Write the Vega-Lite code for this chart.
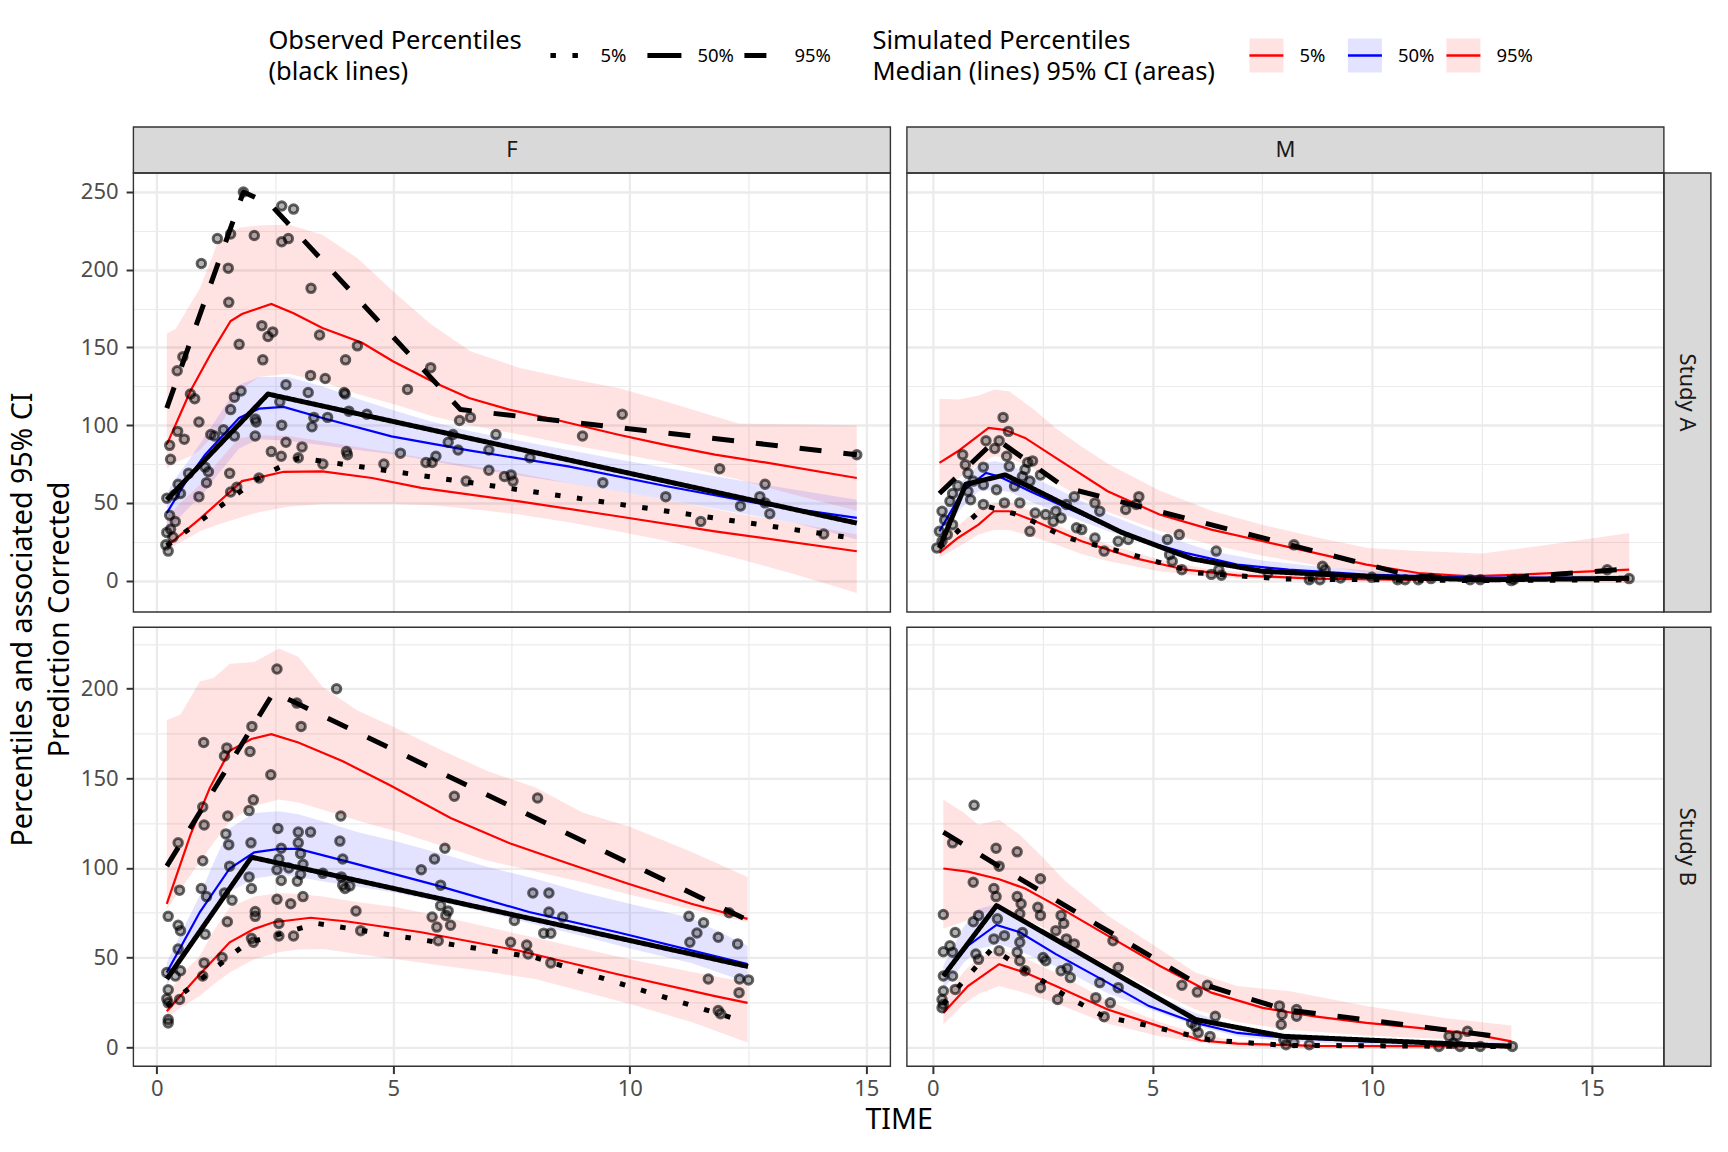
{
  "$schema": "https://vega.github.io/schema/vega-lite/v6.json",
  "background": "white",
  "padding": {"left": 8.4, "top": 26, "right": 5, "bottom": 5},
  "config": {
    "font": "Noto Sans",
    "view": {"stroke": null},
    "axis": {
      "domain": false, "gridColor": "#EBEBEB", "tickColor": "#333333", "tickWidth": 2, "tickSize": 7.3,
      "labelFont": "Noto Sans", "labelFontSize": 22, "labelColor": "#4D4D4D", "labelOverlap": false, "labelFlush": false,
      "titleFont": "Noto Sans", "titleFontWeight": "normal", "titleFontSize": 28.6, "titleColor": "#000000"
    },
    "axisX": {"labelPadding": 5},
    "axisY": {"labelPadding": 8}
  },
  "datasets": {
    "pFA": [{"t":1.83,"v":250},{"t":2.64,"v":241},{"t":2.89,"v":239},{"t":1.28,"v":220},{"t":1.56,"v":223},{"t":2.06,"v":222},{"t":2.64,"v":218},{"t":2.78,"v":220},{"t":0.94,"v":204},{"t":1.51,"v":201},{"t":3.26,"v":188},{"t":1.52,"v":179},{"t":2.22,"v":164},{"t":2.45,"v":160},{"t":2.35,"v":157},{"t":3.44,"v":158},{"t":4.24,"v":151},{"t":1.74,"v":152},{"t":0.55,"v":144},{"t":0.43,"v":135},{"t":2.24,"v":142},{"t":3.99,"v":142},{"t":5.79,"v":137},{"t":3.25,"v":132},{"t":3.56,"v":130},{"t":5.3,"v":123},{"t":2.73,"v":126},{"t":3.2,"v":121},{"t":3.96,"v":121},{"t":3.98,"v":120},{"t":0.71,"v":120},{"t":0.8,"v":117},{"t":1.78,"v":122},{"t":1.64,"v":118},{"t":1.56,"v":110},{"t":2.6,"v":115},{"t":4.44,"v":107},{"t":4.06,"v":109},{"t":2.08,"v":104},{"t":2.1,"v":102},{"t":3.32,"v":105},{"t":3.61,"v":105},{"t":0.89,"v":102},{"t":1.14,"v":94},{"t":1.22,"v":93},{"t":1.64,"v":93},{"t":2.08,"v":93},{"t":1.41,"v":97},{"t":2.64,"v":100},{"t":3.28,"v":99},{"t":6.4,"v":103},{"t":6.63,"v":105},{"t":9.84,"v":107},{"t":0.44,"v":96},{"t":0.58,"v":91},{"t":6.26,"v":94},{"t":7.17,"v":94},{"t":9.0,"v":93},{"t":0.27,"v":87},{"t":0.29,"v":78},{"t":2.73,"v":89},{"t":3.07,"v":86},{"t":2.42,"v":83},{"t":2.63,"v":80},{"t":4.01,"v":83},{"t":4.03,"v":81},{"t":5.15,"v":82},{"t":5.9,"v":80},{"t":5.69,"v":76},{"t":5.82,"v":76},{"t":3.51,"v":75},{"t":2.99,"v":79},{"t":4.8,"v":75},{"t":6.16,"v":89},{"t":6.37,"v":84},{"t":7.02,"v":84},{"t":7.89,"v":79},{"t":1.02,"v":73},{"t":1.09,"v":70},{"t":1.05,"v":63},{"t":0.67,"v":69},{"t":0.45,"v":62},{"t":0.5,"v":56},{"t":1.54,"v":69},{"t":7.02,"v":71},{"t":7.35,"v":67},{"t":7.49,"v":68},{"t":7.53,"v":64},{"t":6.54,"v":64},{"t":9.43,"v":63},{"t":10.76,"v":54},{"t":11.9,"v":72},{"t":12.86,"v":62},{"t":12.75,"v":54},{"t":12.86,"v":50},{"t":12.96,"v":43},{"t":12.34,"v":48},{"t":11.5,"v":38},{"t":14.1,"v":30},{"t":14.8,"v":81},{"t":1.69,"v":60},{"t":0.89,"v":54},{"t":0.37,"v":55},{"t":1.56,"v":57},{"t":2.16,"v":66},{"t":0.21,"v":53},{"t":0.27,"v":42},{"t":0.29,"v":33},{"t":0.21,"v":31},{"t":0.34,"v":28},{"t":0.24,"v":19},{"t":0.19,"v":23},{"t":0.39,"v":38}],
    "pFB": [{"t":2.54,"v":211},{"t":3.8,"v":200},{"t":2.96,"v":192},{"t":2.01,"v":179},{"t":3.05,"v":179},{"t":0.99,"v":170},{"t":1.48,"v":167},{"t":1.97,"v":165},{"t":1.43,"v":162.5},{"t":2.41,"v":152},{"t":6.29,"v":140},{"t":8.05,"v":139},{"t":2.04,"v":138},{"t":0.97,"v":134},{"t":1.95,"v":132},{"t":1.0,"v":124},{"t":1.5,"v":129},{"t":3.89,"v":129},{"t":2.56,"v":122},{"t":2.99,"v":120},{"t":3.25,"v":120},{"t":1.46,"v":119},{"t":3.87,"v":115},{"t":1.52,"v":113},{"t":1.99,"v":114},{"t":2.99,"v":114},{"t":6.09,"v":111},{"t":5.87,"v":105},{"t":3.93,"v":105},{"t":0.45,"v":114},{"t":0.97,"v":104},{"t":2.63,"v":111},{"t":2.58,"v":105},{"t":3.04,"v":108},{"t":1.54,"v":101},{"t":2.79,"v":100},{"t":3.09,"v":102},{"t":2.54,"v":99},{"t":1.95,"v":95},{"t":3.51,"v":97},{"t":3.04,"v":96.5},{"t":5.59,"v":99},{"t":2.63,"v":93},{"t":2.97,"v":92.6},{"t":3.9,"v":95},{"t":3.93,"v":90.4},{"t":3.98,"v":88.5},{"t":4.08,"v":90},{"t":2.0,"v":88.5},{"t":0.94,"v":88.5},{"t":0.48,"v":87.6},{"t":1.05,"v":84},{"t":1.43,"v":86},{"t":1.59,"v":82},{"t":6.0,"v":90.4},{"t":6.0,"v":79},{"t":6.16,"v":76},{"t":6.11,"v":73.5},{"t":6.21,"v":68},{"t":5.92,"v":67},{"t":5.82,"v":72.6},{"t":5.95,"v":59.4},{"t":7.95,"v":86},{"t":8.29,"v":86},{"t":8.29,"v":75.4},{"t":8.58,"v":72.6},{"t":7.56,"v":70.7},{"t":8.18,"v":63.6},{"t":8.33,"v":63.6},{"t":7.48,"v":58.5},{"t":7.82,"v":57},{"t":7.85,"v":52},{"t":8.33,"v":47},{"t":2.54,"v":82.5},{"t":2.83,"v":80},{"t":3.09,"v":84},{"t":2.08,"v":75.7},{"t":2.08,"v":73},{"t":4.21,"v":76},{"t":1.49,"v":70},{"t":2.58,"v":69},{"t":2.58,"v":62},{"t":2.89,"v":62},{"t":2.0,"v":60.7},{"t":2.04,"v":58.5},{"t":4.31,"v":65},{"t":0.24,"v":73},{"t":0.45,"v":68},{"t":0.5,"v":65},{"t":1.02,"v":63},{"t":0.45,"v":54.7},{"t":1.0,"v":47},{"t":0.97,"v":39.7},{"t":1.38,"v":50},{"t":0.5,"v":42.6},{"t":0.21,"v":41.6},{"t":0.39,"v":39.7},{"t":0.24,"v":32},{"t":0.21,"v":27},{"t":0.24,"v":24.7},{"t":0.48,"v":26.6},{"t":0.24,"v":15.4},{"t":0.24,"v":13.5},{"t":11.25,"v":73},{"t":11.56,"v":69.4},{"t":12.1,"v":75},{"t":11.42,"v":63.7},{"t":11.27,"v":58.5},{"t":11.87,"v":61.3},{"t":12.28,"v":57.6},{"t":11.66,"v":38},{"t":12.32,"v":38},{"t":12.51,"v":37.5},{"t":12.31,"v":30.4},{"t":11.87,"v":20.4},{"t":11.92,"v":18.6}],
    "pMA": [{"t":1.6,"v":105},{"t":1.72,"v":96},{"t":1.21,"v":90},{"t":1.51,"v":90},{"t":0.68,"v":81},{"t":1.41,"v":85},{"t":1.68,"v":80},{"t":2.27,"v":77},{"t":2.16,"v":76},{"t":1.74,"v":73.5},{"t":1.15,"v":73},{"t":2.1,"v":71.4},{"t":2.45,"v":68},{"t":0.8,"v":69},{"t":0.74,"v":74.6},{"t":0.57,"v":61},{"t":0.45,"v":56},{"t":0.39,"v":51},{"t":0.21,"v":44.6},{"t":0.27,"v":39},{"t":0.15,"v":31.7},{"t":0.09,"v":21},{"t":0.21,"v":25.3},{"t":0.33,"v":29.6},{"t":0.45,"v":36},{"t":0.8,"v":57.5},{"t":0.92,"v":64},{"t":1.15,"v":61.7},{"t":1.45,"v":58.5},{"t":1.86,"v":60.7},{"t":2.04,"v":67},{"t":2.21,"v":64},{"t":1.15,"v":49},{"t":1.63,"v":50},{"t":1.98,"v":50},{"t":0.86,"v":52},{"t":2.33,"v":43.5},{"t":2.57,"v":42.5},{"t":2.74,"v":38},{"t":2.8,"v":44.6},{"t":3.04,"v":49},{"t":3.22,"v":54},{"t":2.92,"v":40.3},{"t":3.27,"v":34},{"t":3.39,"v":32.8},{"t":2.21,"v":31.7},{"t":3.69,"v":50},{"t":3.8,"v":44.6},{"t":3.69,"v":27.4},{"t":3.9,"v":19},{"t":4.22,"v":25.3},{"t":4.39,"v":45.7},{"t":4.63,"v":49},{"t":4.69,"v":54},{"t":4.45,"v":26.4},{"t":5.34,"v":26.4},{"t":5.61,"v":29.6},{"t":5.39,"v":16.7},{"t":5.45,"v":12.4},{"t":5.67,"v":7},{"t":6.45,"v":19},{"t":6.51,"v":7},{"t":6.34,"v":4},{"t":6.57,"v":3.4},{"t":8.22,"v":23},{"t":8.87,"v":9.2},{"t":8.93,"v":7},{"t":8.57,"v":0.6},{"t":8.81,"v":0.6},{"t":9.28,"v":1.7},{"t":9.99,"v":2.1},{"t":10.58,"v":0.6},{"t":10.75,"v":0.6},{"t":11.05,"v":0.6},{"t":11.34,"v":1.3},{"t":12.23,"v":0.6},{"t":12.46,"v":0.6},{"t":13.17,"v":0},{"t":15.35,"v":7},{"t":15.85,"v":1.3},{"t":13.23,"v":0.9},{"t":7.63,"v":4.9}],
    "pMB": [{"t":0.94,"v":135},{"t":0.45,"v":114},{"t":1.44,"v":111},{"t":1.92,"v":109},{"t":1.51,"v":101},{"t":2.45,"v":94},{"t":0.92,"v":92},{"t":1.39,"v":88.5},{"t":1.44,"v":84},{"t":1.92,"v":84},{"t":2.01,"v":80},{"t":0.24,"v":74},{"t":1.04,"v":73.5},{"t":0.92,"v":70},{"t":2.39,"v":78},{"t":2.45,"v":73.5},{"t":1.98,"v":74.4},{"t":2.92,"v":73.5},{"t":2.98,"v":69},{"t":1.47,"v":71.6},{"t":0.51,"v":64},{"t":2.04,"v":64},{"t":2.8,"v":65},{"t":3.04,"v":60.4},{"t":3.22,"v":57.6},{"t":4.1,"v":59.4},{"t":1.39,"v":60.4},{"t":1.63,"v":62.2},{"t":1.98,"v":58.5},{"t":0.39,"v":56.6},{"t":0.24,"v":53.2},{"t":0.45,"v":53},{"t":0.98,"v":52},{"t":1.51,"v":53.8},{"t":1.92,"v":53},{"t":2.51,"v":50},{"t":2.57,"v":48.2},{"t":1.04,"v":49},{"t":1.98,"v":48.2},{"t":2.1,"v":42.6},{"t":2.92,"v":42.6},{"t":3.06,"v":44},{"t":3.13,"v":38.8},{"t":4.22,"v":44.4},{"t":3.8,"v":36},{"t":4.22,"v":33.2},{"t":0.45,"v":39.7},{"t":0.51,"v":32.2},{"t":0.24,"v":39.7},{"t":0.24,"v":31.3},{"t":0.21,"v":26.6},{"t":0.24,"v":23.8},{"t":0.21,"v":22},{"t":2.45,"v":33.2},{"t":2.84,"v":26.6},{"t":3.71,"v":27.6},{"t":4.04,"v":24.7},{"t":3.9,"v":17},{"t":5.67,"v":34.5},{"t":6.02,"v":30.7},{"t":6.25,"v":34.5},{"t":6.43,"v":17.2},{"t":5.98,"v":11.6},{"t":6.04,"v":8},{"t":6.31,"v":6},{"t":5.89,"v":13.5},{"t":7.89,"v":23},{"t":7.95,"v":18.2},{"t":8.28,"v":21},{"t":8.28,"v":17.2},{"t":7.93,"v":12.6},{"t":7.99,"v":4},{"t":8.04,"v":1.3},{"t":8.22,"v":2.6},{"t":8.57,"v":1.3},{"t":11.52,"v":0.4},{"t":11.75,"v":6},{"t":11.93,"v":6.4},{"t":12.17,"v":8.8},{"t":11.85,"v":2.2},{"t":12.0,"v":0.4},{"t":12.46,"v":0.4},{"t":13.19,"v":0.4}],
    "bFA": [
      {"q":"95%","t":0.21,"v":72,"v2":159},{"q":"95%","t":0.4,"v":76,"v2":162},{"q":"95%","t":0.71,"v":80,"v2":178},{"q":"95%","t":0.91,"v":84,"v2":188},{"q":"95%","t":1.28,"v":96,"v2":217},{"q":"95%","t":1.74,"v":122,"v2":227},{"q":"95%","t":2.16,"v":131,"v2":228.5},{"q":"95%","t":2.78,"v":133,"v2":229},{"q":"95%","t":3.5,"v":128,"v2":222.5},{"q":"95%","t":4.24,"v":120,"v2":207.5},{"q":"95%","t":5.07,"v":113,"v2":184},{"q":"95%","t":5.79,"v":106,"v2":165},{"q":"95%","t":6.63,"v":100,"v2":147.5},{"q":"95%","t":7.66,"v":94,"v2":137},{"q":"95%","t":8.7,"v":87.5,"v2":130},{"q":"95%","t":9.74,"v":82,"v2":124},{"q":"95%","t":10.78,"v":76,"v2":115},{"q":"95%","t":12.3,"v":65,"v2":101},{"q":"95%","t":13.5,"v":55,"v2":100.5},{"q":"95%","t":14.8,"v":45,"v2":100},
      {"q":"50%","t":0.21,"v":29.6,"v2":56},{"q":"50%","t":0.4,"v":38,"v2":66},{"q":"50%","t":0.71,"v":48,"v2":79},{"q":"50%","t":0.91,"v":53,"v2":88},{"q":"50%","t":1.28,"v":68,"v2":105},{"q":"50%","t":1.74,"v":85,"v2":126},{"q":"50%","t":2.16,"v":91,"v2":131},{"q":"50%","t":2.78,"v":90,"v2":131},{"q":"50%","t":3.5,"v":87,"v2":125},{"q":"50%","t":4.24,"v":84,"v2":117},{"q":"50%","t":5.07,"v":81,"v2":109},{"q":"50%","t":5.79,"v":77,"v2":102.5},{"q":"50%","t":6.63,"v":72.5,"v2":96},{"q":"50%","t":7.66,"v":67.5,"v2":90},{"q":"50%","t":8.7,"v":62.8,"v2":84},{"q":"50%","t":9.74,"v":57.5,"v2":78},{"q":"50%","t":10.78,"v":52,"v2":72.5},{"q":"50%","t":12.3,"v":43.5,"v2":64.5},{"q":"50%","t":13.5,"v":37,"v2":58.5},{"q":"50%","t":14.8,"v":26.4,"v2":52},
      {"q":"5%","t":0.21,"v":18.9,"v2":40},{"q":"5%","t":0.4,"v":23,"v2":47},{"q":"5%","t":0.71,"v":28,"v2":56},{"q":"5%","t":0.91,"v":31.7,"v2":61.7},{"q":"5%","t":1.28,"v":36,"v2":76},{"q":"5%","t":1.74,"v":40.3,"v2":91.8},{"q":"5%","t":2.16,"v":44,"v2":93.5},{"q":"5%","t":2.78,"v":47.5,"v2":93},{"q":"5%","t":3.5,"v":49.3,"v2":89.6},{"q":"5%","t":4.24,"v":49.5,"v2":86},{"q":"5%","t":5.07,"v":49.2,"v2":82},{"q":"5%","t":5.79,"v":48.5,"v2":78},{"q":"5%","t":6.63,"v":46,"v2":74},{"q":"5%","t":7.66,"v":42.5,"v2":69},{"q":"5%","t":8.7,"v":37.5,"v2":63},{"q":"5%","t":9.74,"v":31.7,"v2":57.5},{"q":"5%","t":10.78,"v":25.5,"v2":52},{"q":"5%","t":12.3,"v":14,"v2":43},{"q":"5%","t":13.5,"v":4,"v2":37},{"q":"5%","t":14.8,"v":-7.9,"v2":29.6}],
    "bFB": [
      {"q":"95%","t":0.21,"v":77,"v2":182.6},{"q":"95%","t":0.5,"v":88,"v2":185.6},{"q":"95%","t":0.91,"v":103.5,"v2":204},{"q":"95%","t":1.2,"v":114,"v2":206},{"q":"95%","t":1.54,"v":126,"v2":214},{"q":"95%","t":2.06,"v":134.5,"v2":215},{"q":"95%","t":2.58,"v":138.2,"v2":222.5},{"q":"95%","t":2.99,"v":136.5,"v2":217.8},{"q":"95%","t":3.51,"v":132.5,"v2":201},{"q":"95%","t":4.24,"v":126.5,"v2":187.8},{"q":"95%","t":5.07,"v":120.4,"v2":178},{"q":"95%","t":6.0,"v":112.5,"v2":166},{"q":"95%","t":7.0,"v":104,"v2":154},{"q":"95%","t":8.0,"v":98,"v2":145},{"q":"95%","t":9.0,"v":92,"v2":131},{"q":"95%","t":10.0,"v":85,"v2":123},{"q":"95%","t":11.3,"v":77,"v2":109},{"q":"95%","t":12.49,"v":69.7,"v2":95},
      {"q":"50%","t":0.21,"v":34.1,"v2":47.2},{"q":"50%","t":0.5,"v":50,"v2":63},{"q":"50%","t":0.91,"v":66,"v2":84.7},{"q":"50%","t":1.2,"v":77,"v2":103},{"q":"50%","t":1.54,"v":86.6,"v2":122.2},{"q":"50%","t":2.06,"v":94.1,"v2":130.7},{"q":"50%","t":2.58,"v":96,"v2":131.6},{"q":"50%","t":2.99,"v":95,"v2":130},{"q":"50%","t":3.51,"v":92.5,"v2":126},{"q":"50%","t":4.24,"v":89.5,"v2":120},{"q":"50%","t":5.07,"v":86,"v2":114.7},{"q":"50%","t":6.0,"v":81,"v2":108},{"q":"50%","t":7.0,"v":75,"v2":100.5},{"q":"50%","t":8.0,"v":68.5,"v2":94},{"q":"50%","t":9.0,"v":62,"v2":86.5},{"q":"50%","t":10.0,"v":55,"v2":80},{"q":"50%","t":11.3,"v":47,"v2":72},{"q":"50%","t":12.49,"v":36,"v2":56.6},
      {"q":"5%","t":0.21,"v":16.3,"v2":28.5},{"q":"5%","t":0.5,"v":22,"v2":40},{"q":"5%","t":0.91,"v":28.5,"v2":51},{"q":"5%","t":1.2,"v":35,"v2":65},{"q":"5%","t":1.54,"v":41.6,"v2":78},{"q":"5%","t":2.06,"v":49.1,"v2":84},{"q":"5%","t":2.58,"v":53,"v2":86},{"q":"5%","t":2.99,"v":54.5,"v2":85.5},{"q":"5%","t":3.51,"v":54.7,"v2":84},{"q":"5%","t":4.24,"v":52,"v2":81},{"q":"5%","t":5.07,"v":49.1,"v2":78},{"q":"5%","t":6.0,"v":45.5,"v2":73},{"q":"5%","t":7.0,"v":42,"v2":67},{"q":"5%","t":8.0,"v":38,"v2":61},{"q":"5%","t":9.0,"v":31,"v2":55},{"q":"5%","t":10.0,"v":24,"v2":49},{"q":"5%","t":11.3,"v":14,"v2":42},{"q":"5%","t":12.49,"v":2.6,"v2":36}],
    "bMA": [
      {"q":"95%","t":0.15,"v":58,"v2":117},{"q":"95%","t":0.6,"v":66,"v2":116.5},{"q":"95%","t":1.04,"v":75,"v2":119},{"q":"95%","t":1.4,"v":80,"v2":123},{"q":"95%","t":1.74,"v":79,"v2":121.8},{"q":"95%","t":2.3,"v":72,"v2":110},{"q":"95%","t":2.8,"v":63,"v2":98},{"q":"95%","t":3.4,"v":53,"v2":86},{"q":"95%","t":4.0,"v":44,"v2":75},{"q":"95%","t":5.16,"v":32,"v2":58},{"q":"95%","t":6.34,"v":23,"v2":45},{"q":"95%","t":7.5,"v":16,"v2":36},{"q":"95%","t":8.7,"v":10,"v2":28},{"q":"95%","t":9.9,"v":5,"v2":21},{"q":"95%","t":11.05,"v":1.5,"v2":19},{"q":"95%","t":12.5,"v":-1,"v2":17.5},{"q":"95%","t":14,"v":-1,"v2":23},{"q":"95%","t":15.85,"v":-1.5,"v2":30.7},
      {"q":"50%","t":0.15,"v":25.3,"v2":40},{"q":"50%","t":0.6,"v":45,"v2":62},{"q":"50%","t":1.04,"v":57.5,"v2":74.6},{"q":"50%","t":1.4,"v":58.5,"v2":77},{"q":"50%","t":1.74,"v":57,"v2":75},{"q":"50%","t":2.3,"v":50,"v2":66},{"q":"50%","t":2.8,"v":44.6,"v2":59.6},{"q":"50%","t":3.4,"v":38,"v2":51},{"q":"50%","t":4.0,"v":31.7,"v2":42.5},{"q":"50%","t":5.16,"v":21,"v2":29.6},{"q":"50%","t":6.34,"v":13.5,"v2":18.9},{"q":"50%","t":7.5,"v":8.5,"v2":13},{"q":"50%","t":8.7,"v":4.9,"v2":9.2},{"q":"50%","t":9.9,"v":2.8,"v2":6.5},{"q":"50%","t":11.05,"v":1.7,"v2":4.9},{"q":"50%","t":12.5,"v":1.2,"v2":4},{"q":"50%","t":14,"v":1,"v2":3.6},{"q":"50%","t":15.85,"v":0.9,"v2":3.4},
      {"q":"5%","t":0.15,"v":14.6,"v2":27.4},{"q":"5%","t":0.6,"v":22,"v2":36},{"q":"5%","t":1.04,"v":29.6,"v2":46.7},{"q":"5%","t":1.4,"v":32.5,"v2":50},{"q":"5%","t":1.74,"v":32.5,"v2":50.5},{"q":"5%","t":2.3,"v":28,"v2":44},{"q":"5%","t":2.8,"v":23.2,"v2":36},{"q":"5%","t":3.4,"v":17,"v2":29},{"q":"5%","t":4.0,"v":12.4,"v2":23.2},{"q":"5%","t":5.16,"v":6,"v2":13.5},{"q":"5%","t":6.34,"v":2.1,"v2":7},{"q":"5%","t":7.5,"v":1,"v2":4.5},{"q":"5%","t":8.7,"v":0.4,"v2":2.8},{"q":"5%","t":9.9,"v":0.2,"v2":1.8},{"q":"5%","t":11.05,"v":0.1,"v2":1.3},{"q":"5%","t":12.5,"v":0,"v2":1.1},{"q":"5%","t":14,"v":0,"v2":1},{"q":"5%","t":15.85,"v":0,"v2":0.9}],
    "bMB": [
      {"q":"95%","t":0.24,"v":66,"v2":138.2},{"q":"95%","t":0.7,"v":70,"v2":131},{"q":"95%","t":1.04,"v":74,"v2":124.1},{"q":"95%","t":1.51,"v":77.2,"v2":126.9},{"q":"95%","t":1.98,"v":72,"v2":118.5},{"q":"95%","t":2.5,"v":67,"v2":106},{"q":"95%","t":3.0,"v":59,"v2":93},{"q":"95%","t":3.98,"v":45.4,"v2":73.5},{"q":"95%","t":5.16,"v":30.4,"v2":54.7},{"q":"95%","t":5.98,"v":21,"v2":41.6},{"q":"95%","t":6.93,"v":14,"v2":34.1},{"q":"95%","t":8.1,"v":9.7,"v2":31.3},{"q":"95%","t":9.87,"v":6.5,"v2":22.9},{"q":"95%","t":11.64,"v":4.5,"v2":16.3},{"q":"95%","t":13.17,"v":2.2,"v2":12},
      {"q":"50%","t":0.24,"v":32.2,"v2":45.4},{"q":"50%","t":0.7,"v":47,"v2":67},{"q":"50%","t":1.04,"v":54.7,"v2":77.2},{"q":"50%","t":1.51,"v":57.6,"v2":80},{"q":"50%","t":1.98,"v":53.5,"v2":73},{"q":"50%","t":2.5,"v":48,"v2":64},{"q":"50%","t":3.0,"v":43,"v2":56},{"q":"50%","t":3.98,"v":30,"v2":42},{"q":"50%","t":5.16,"v":19,"v2":28},{"q":"50%","t":5.98,"v":12,"v2":19},{"q":"50%","t":6.93,"v":6,"v2":11.6},{"q":"50%","t":8.1,"v":3,"v2":7.5},{"q":"50%","t":9.87,"v":1.5,"v2":5},{"q":"50%","t":11.64,"v":0.8,"v2":3.5},{"q":"50%","t":13.17,"v":0.4,"v2":2.6},
      {"q":"5%","t":0.24,"v":12.6,"v2":26.6},{"q":"5%","t":0.7,"v":24,"v2":42},{"q":"5%","t":1.04,"v":29.6,"v2":50},{"q":"5%","t":1.51,"v":34.1,"v2":54.7},{"q":"5%","t":1.98,"v":31,"v2":51},{"q":"5%","t":2.5,"v":27,"v2":45},{"q":"5%","t":3.0,"v":22.5,"v2":39},{"q":"5%","t":3.98,"v":13,"v2":26},{"q":"5%","t":5.16,"v":6,"v2":14},{"q":"5%","t":5.98,"v":2.8,"v2":8},{"q":"5%","t":6.93,"v":0.4,"v2":3.2},{"q":"5%","t":8.1,"v":-0.4,"v2":1.8},{"q":"5%","t":9.87,"v":-0.7,"v2":1},{"q":"5%","t":11.64,"v":-1,"v2":0.6},{"q":"5%","t":13.17,"v":-1.1,"v2":0.4}],
    "sFA": [
      {"q":"95%","t":0.21,"v":87.5},{"q":"95%","t":0.71,"v":122},{"q":"95%","t":1.17,"v":147.5},{"q":"95%","t":1.56,"v":167},{"q":"95%","t":1.8,"v":171.5},{"q":"95%","t":2.42,"v":178},{"q":"95%","t":2.89,"v":172},{"q":"95%","t":3.5,"v":162.5},{"q":"95%","t":4.34,"v":153},{"q":"95%","t":5.0,"v":141},{"q":"95%","t":5.9,"v":127},{"q":"95%","t":6.6,"v":117.5},{"q":"95%","t":7.45,"v":110},{"q":"95%","t":8.5,"v":103},{"q":"95%","t":9.74,"v":94},{"q":"95%","t":10.8,"v":87},{"q":"95%","t":11.8,"v":81},{"q":"95%","t":12.86,"v":76},{"q":"95%","t":14.8,"v":66},
      {"q":"50%","t":0.21,"v":43.5},{"q":"50%","t":0.6,"v":63},{"q":"50%","t":1.02,"v":81},{"q":"50%","t":1.74,"v":104.6},{"q":"50%","t":2.16,"v":110.6},{"q":"50%","t":2.68,"v":111.7},{"q":"50%","t":3.5,"v":104.6},{"q":"50%","t":4.96,"v":92.8},{"q":"50%","t":6.63,"v":83.6},{"q":"50%","t":8.7,"v":73.5},{"q":"50%","t":10.78,"v":60.7},{"q":"50%","t":12.86,"v":48.9},{"q":"50%","t":14.8,"v":40.3},
      {"q":"5%","t":0.21,"v":22},{"q":"5%","t":0.92,"v":40},{"q":"5%","t":1.8,"v":64},{"q":"5%","t":2.26,"v":67},{"q":"5%","t":2.68,"v":70},{"q":"5%","t":3.5,"v":70.3},{"q":"5%","t":4.55,"v":66},{"q":"5%","t":5.59,"v":59.6},{"q":"5%","t":7.66,"v":51},{"q":"5%","t":9.74,"v":41.4},{"q":"5%","t":11.8,"v":31.7},{"q":"5%","t":14.8,"v":18.9}],
    "sFB": [
      {"q":"95%","t":0.21,"v":80},{"q":"95%","t":0.71,"v":118.5},{"q":"95%","t":1.12,"v":144.7},{"q":"95%","t":1.54,"v":165.4},{"q":"95%","t":2.0,"v":172},{"q":"95%","t":2.42,"v":174.7},{"q":"95%","t":2.99,"v":170},{"q":"95%","t":3.92,"v":159.7},{"q":"95%","t":4.96,"v":145.7},{"q":"95%","t":6.21,"v":127.9},{"q":"95%","t":7.46,"v":113.8},{"q":"95%","t":8.7,"v":102.5},{"q":"95%","t":9.95,"v":91.3},{"q":"95%","t":11.3,"v":80},{"q":"95%","t":12.49,"v":71.6},
      {"q":"50%","t":0.21,"v":41.6},{"q":"50%","t":0.91,"v":75.4},{"q":"50%","t":1.54,"v":99.7},{"q":"50%","t":2.06,"v":108.7},{"q":"50%","t":2.58,"v":110.6},{"q":"50%","t":2.99,"v":110.6},{"q":"50%","t":4.03,"v":103.5},{"q":"50%","t":5.9,"v":90.4},{"q":"50%","t":7.87,"v":75.4},{"q":"50%","t":9.74,"v":64.1},{"q":"50%","t":12.49,"v":46.3},
      {"q":"5%","t":0.21,"v":20},{"q":"5%","t":0.81,"v":37.9},{"q":"5%","t":1.54,"v":58.5},{"q":"5%","t":2.06,"v":66},{"q":"5%","t":2.47,"v":69.7},{"q":"5%","t":3.25,"v":72.2},{"q":"5%","t":4.03,"v":70.1},{"q":"5%","t":5.59,"v":64.1},{"q":"5%","t":7.66,"v":53.8},{"q":"5%","t":9.74,"v":40.7},{"q":"5%","t":11.8,"v":28.5},{"q":"5%","t":12.49,"v":24.7}],
    "sMA": [
      {"q":"95%","t":0.15,"v":75.7},{"q":"95%","t":0.57,"v":83.2},{"q":"95%","t":1.27,"v":98.2},{"q":"95%","t":1.63,"v":97},{"q":"95%","t":2.1,"v":91.8},{"q":"95%","t":2.8,"v":78.9},{"q":"95%","t":3.98,"v":57.5},{"q":"95%","t":5.16,"v":42.5},{"q":"95%","t":6.34,"v":32.8},{"q":"95%","t":7.51,"v":25.3},{"q":"95%","t":8.69,"v":17.8},{"q":"95%","t":9.87,"v":10.3},{"q":"95%","t":11.05,"v":4.9},{"q":"95%","t":12.2,"v":2.8},{"q":"95%","t":13.4,"v":3.9},{"q":"95%","t":15.85,"v":7},
      {"q":"50%","t":0.15,"v":31.7},{"q":"50%","t":0.68,"v":57.5},{"q":"50%","t":1.21,"v":69.3},{"q":"50%","t":1.51,"v":67},{"q":"50%","t":2.21,"v":57.5},{"q":"50%","t":3.39,"v":42.5},{"q":"50%","t":4.57,"v":27.4},{"q":"50%","t":5.75,"v":17.8},{"q":"50%","t":6.93,"v":10.3},{"q":"50%","t":8.1,"v":7},{"q":"50%","t":9.87,"v":3.9},{"q":"50%","t":12.2,"v":2.1},{"q":"50%","t":15.85,"v":1.7},
      {"q":"5%","t":0.15,"v":17.8},{"q":"5%","t":0.57,"v":27.4},{"q":"5%","t":1.04,"v":36},{"q":"5%","t":1.39,"v":44.6},{"q":"5%","t":1.74,"v":44.6},{"q":"5%","t":2.33,"v":38.2},{"q":"5%","t":3.39,"v":25.3},{"q":"5%","t":4.57,"v":14.6},{"q":"5%","t":5.75,"v":7},{"q":"5%","t":6.93,"v":3.4},{"q":"5%","t":8.69,"v":1.3},{"q":"5%","t":11.05,"v":0.4},{"q":"5%","t":15.85,"v":0.4}],
    "sMB": [
      {"q":"95%","t":0.24,"v":99.7},{"q":"95%","t":0.8,"v":97.9},{"q":"95%","t":1.51,"v":93.7},{"q":"95%","t":2.1,"v":88.5},{"q":"95%","t":2.8,"v":79.1},{"q":"95%","t":3.98,"v":62.2},{"q":"95%","t":5.16,"v":45.4},{"q":"95%","t":6.34,"v":30.4},{"q":"95%","t":7.51,"v":21.9},{"q":"95%","t":8.69,"v":17.2},{"q":"95%","t":9.87,"v":13.5},{"q":"95%","t":11.05,"v":10.7},{"q":"95%","t":12.23,"v":7.5},{"q":"95%","t":13.17,"v":3.2},
      {"q":"50%","t":0.24,"v":39.7},{"q":"50%","t":0.8,"v":56.6},{"q":"50%","t":1.45,"v":68.2},{"q":"50%","t":1.98,"v":64.1},{"q":"50%","t":2.8,"v":51.9},{"q":"50%","t":3.98,"v":36},{"q":"50%","t":4.92,"v":22.9},{"q":"50%","t":5.98,"v":13.5},{"q":"50%","t":6.93,"v":7.9},{"q":"50%","t":8.1,"v":5.1},{"q":"50%","t":9.87,"v":3.2},{"q":"50%","t":13.17,"v":1.3},
      {"q":"5%","t":0.24,"v":19.1},{"q":"5%","t":0.8,"v":34.1},{"q":"5%","t":1.51,"v":46.3},{"q":"5%","t":2.1,"v":41.6},{"q":"5%","t":2.8,"v":34.1},{"q":"5%","t":3.98,"v":21},{"q":"5%","t":5.16,"v":11.6},{"q":"5%","t":6.1,"v":3.7},{"q":"5%","t":6.93,"v":1.9},{"q":"5%","t":8.69,"v":0.7},{"q":"5%","t":13.17,"v":0.4}],
    "oFA": [
      {"q":"5%","t":0.21,"v":22.5},{"q":"5%","t":2.2,"v":67},{"q":"5%","t":3.0,"v":79},{"q":"5%","t":14.8,"v":27},
      {"q":"50%","t":0.21,"v":52},{"q":"50%","t":2.35,"v":120},{"q":"50%","t":14.8,"v":37},
      {"q":"95%","t":0.21,"v":111},{"q":"95%","t":1.83,"v":250},{"q":"95%","t":2.4,"v":242},{"q":"95%","t":6.42,"v":110},{"q":"95%","t":14.8,"v":81}],
    "oFB": [
      {"q":"5%","t":0.21,"v":23},{"q":"5%","t":1.9,"v":58},{"q":"5%","t":3.4,"v":69},{"q":"5%","t":8.0,"v":50},{"q":"5%","t":12.45,"v":14},
      {"q":"50%","t":0.21,"v":38},{"q":"50%","t":2.0,"v":106},{"q":"50%","t":12.5,"v":45},
      {"q":"95%","t":0.21,"v":101},{"q":"95%","t":2.47,"v":198},{"q":"95%","t":2.95,"v":192},{"q":"95%","t":12.4,"v":72}],
    "oMA": [
      {"q":"5%","t":0.15,"v":21},{"q":"5%","t":1.2,"v":48},{"q":"5%","t":2.0,"v":42},{"q":"5%","t":3.0,"v":28},{"q":"5%","t":4.5,"v":17},{"q":"5%","t":6,"v":5},{"q":"5%","t":8,"v":1},{"q":"5%","t":12.5,"v":0},{"q":"5%","t":15.85,"v":0.5},
      {"q":"50%","t":0.15,"v":21},{"q":"50%","t":0.75,"v":62},{"q":"50%","t":1.65,"v":68},{"q":"50%","t":3.0,"v":49},{"q":"50%","t":4.3,"v":31},{"q":"50%","t":5.9,"v":14},{"q":"50%","t":7.5,"v":6},{"q":"50%","t":10,"v":2.5},{"q":"50%","t":12.5,"v":0.5},{"q":"50%","t":15.85,"v":1.5},
      {"q":"95%","t":0.15,"v":56},{"q":"95%","t":1.45,"v":91},{"q":"95%","t":3.0,"v":60},{"q":"95%","t":10.9,"v":3},{"q":"95%","t":12.5,"v":0.5},{"q":"95%","t":15.85,"v":7.5}],
    "oMB": [
      {"q":"5%","t":0.24,"v":24},{"q":"5%","t":1.35,"v":55},{"q":"5%","t":3.0,"v":29},{"q":"5%","t":3.9,"v":17},{"q":"5%","t":5,"v":11.5},{"q":"5%","t":6.3,"v":4},{"q":"5%","t":8,"v":1},{"q":"5%","t":13.15,"v":0.3},
      {"q":"50%","t":0.24,"v":39.7},{"q":"50%","t":1.45,"v":79},{"q":"50%","t":5.98,"v":15.4},{"q":"50%","t":7.99,"v":6},{"q":"50%","t":13.17,"v":0.4},
      {"q":"95%","t":0.24,"v":120},{"q":"95%","t":1.5,"v":101},{"q":"95%","t":5.9,"v":37},{"q":"95%","t":8.0,"v":21},{"q":"95%","t":13.15,"v":5}],
    "keys": [{"k":"5%"},{"k":"50%"},{"k":"95%"}]
  },
  "spacing": 40,
  "vconcat": [
    {
      "spacing": 0,
      "hconcat": [
        {"width": 134.4, "height": 59, "data": {"values": [{"k": "spacer"}]}, "mark": {"type": "point", "opacity": 0}},
        {"width": 272, "height": 30, "data": {"values": [{"k": "obs"}]},
          "mark": {"type": "text", "align": "left", "baseline": "middle", "fontSize": 25.5, "lineHeight": 31, "color": "#000000"},
          "encoding": {"x": {"datum": 0, "type": "quantitative", "scale": {"domain": [0, 1]}, "axis": null}, "text": {"value": ["Observed Percentiles", "(black lines)"]}}},
        {"width": 322, "height": 59, "data": {"name": "keys"},
          "encoding": {"x": {"field": "k", "type": "ordinal", "scale": {"type": "point", "domain": ["5%", "50%", "95%"], "padding": 0.66, "align": 0.133}, "axis": null}},
          "layer": [
            {"mark": {"type": "point", "shape": "stroke", "size": 1156, "stroke": "#000000", "strokeWidth": 5, "opacity": 1},
              "encoding": {"strokeDash": {"field": "k", "type": "nominal", "scale": {"domain": ["5%", "50%", "95%"], "range": [[5.5, 16.5], [1, 0], [22, 22]]}, "legend": null}}},
            {"mark": {"type": "text", "align": "left", "baseline": "middle", "dx": 33, "fontSize": 18.5, "color": "#000000"}, "encoding": {"text": {"field": "k"}}}
          ]},
        {"width": 372, "height": 30, "data": {"values": [{"k": "sim"}]},
          "mark": {"type": "text", "align": "left", "baseline": "middle", "fontSize": 25.5, "lineHeight": 31, "color": "#000000"},
          "encoding": {"x": {"datum": 0, "type": "quantitative", "scale": {"domain": [0, 1]}, "axis": null}, "text": {"value": ["Simulated Percentiles", "Median (lines) 95% CI (areas)"]}}},
        {"width": 283, "height": 59, "data": {"name": "keys"},
          "encoding": {"x": {"field": "k", "type": "ordinal", "scale": {"type": "point", "domain": ["5%", "50%", "95%"], "padding": 0.4365, "align": 0.198}, "axis": null}},
          "layer": [
            {"mark": {"type": "point", "shape": "square", "size": 1156, "filled": true, "opacity": 0.11, "strokeWidth": 0},
              "encoding": {"fill": {"field": "k", "type": "nominal", "scale": {"domain": ["5%", "50%", "95%"], "range": ["#FF0000", "#0000FF", "#FF0000"]}, "legend": null}}},
            {"mark": {"type": "point", "shape": "stroke", "size": 1156, "strokeWidth": 2.4, "opacity": 1},
              "encoding": {"stroke": {"field": "k", "type": "nominal", "scale": {"domain": ["5%", "50%", "95%"], "range": ["#FF0000", "#0000FF", "#FF0000"]}, "legend": null}}},
            {"mark": {"type": "text", "align": "left", "baseline": "middle", "dx": 33, "fontSize": 18.5, "color": "#000000"}, "encoding": {"text": {"field": "k"}}}
          ]}
      ]
    },
    {
      "columns": 2,
      "spacing": {"row": 15.3, "column": 16.5},
      "bounds": "flush",
      "concat": [
        {
          "width": 757, "height": 485,
          "layer": [
            {
              "encoding": {
                "x": {"field": "t", "type": "quantitative", "title": null, "scale": {"domain": [-0.496, 15.51], "nice": false, "zero": false},
                  "axis": {"values": [0, 2.5, 5, 7.5, 10, 12.5, 15], "labels": false, "ticks": false, "grid": true, "gridWidth": {"condition": {"test": "datum.value % 5 === 0", "value": 2.3}, "value": 1.2}}},
                "y": {"field": "v", "type": "quantitative", "scale": {"domain": [-20.2, 291.8], "nice": false, "zero": false},
                  "axis": {"values": [0, 25, 50, 75, 100, 125, 150, 175, 200, 225, 250], "grid": true, "gridWidth": {"condition": {"test": "datum.value % 50 === 0", "value": 2.3}, "value": 1.2},
                    "labelExpr": "datum.value % 50 === 0 ? datum.label : ''", "tickOpacity": {"condition": {"test": "datum.value % 50 === 0", "value": 1}, "value": 0},
                    "title": ["Percentiles and associated 95% CI", "Prediction Corrected"], "titleY": 492, "titlePadding": 6, "titleLineHeight": 36.7}}
              },
              "layer": [
                {"data": {"name": "bFA"}, "mark": {"type": "area", "opacity": 0.11}, "encoding": {"y2": {"field": "v2"}, "color": {"field": "q", "type": "nominal", "scale": {"domain": ["5%", "50%", "95%"], "range": ["#FF0000", "#0000FF", "#FF0000"]}, "legend": null}}},
                {"data": {"name": "sFA"}, "mark": {"type": "line", "strokeWidth": 2.2}, "encoding": {"color": {"field": "q", "type": "nominal", "scale": {"domain": ["5%", "50%", "95%"], "range": ["#FF0000", "#0000FF", "#FF0000"]}, "legend": null}}},
                {"data": {"name": "oFA"}, "mark": {"type": "line", "strokeWidth": 5, "color": "#000000", "strokeJoin": "round"}, "encoding": {"strokeDash": {"field": "q", "type": "nominal", "scale": {"domain": ["5%", "50%", "95%"], "range": [[5.5, 16.5], [1, 0], [22, 22]]}, "legend": null}}},
                {"data": {"name": "pFA"}, "mark": {"type": "point", "filled": true, "fill": "#000000", "fillOpacity": 0.3, "stroke": "#000000", "strokeOpacity": 0.6, "strokeWidth": 3, "size": 72}}
              ]
            },
            {"data": {"values": [{"lab": "F"}]}, "mark": {"type": "rect", "fill": "#D9D9D9", "stroke": "#333333", "strokeWidth": 1.4},
              "encoding": {"x": {"datum": -0.496, "type": "quantitative", "scale": {"domain": [-0.496, 15.51], "nice": false, "zero": false}}, "x2": {"datum": 15.51}, "y": {"datum": 262.2, "type": "quantitative", "scale": {"domain": [-20.2, 291.8], "nice": false, "zero": false}}, "y2": {"datum": 291.8}}},
            {"data": {"values": [{"lab": "F"}]}, "mark": {"type": "text", "fontSize": 22, "color": "#1A1A1A", "baseline": "middle", "align": "center"},
              "encoding": {"x": {"datum": 7.507, "type": "quantitative"}, "y": {"datum": 277, "type": "quantitative"}, "text": {"field": "lab"}}},
            {"data": {"values": [{"lab": "panel"}]}, "mark": {"type": "rect", "fillOpacity": 0, "stroke": "#333333", "strokeWidth": 1.4},
              "encoding": {"x": {"datum": -0.496, "type": "quantitative"}, "x2": {"datum": 15.51}, "y": {"datum": -20.2, "type": "quantitative"}, "y2": {"datum": 262.2}}}
          ]
        },
        {
          "width": 804, "height": 485,
          "layer": [
            {
              "encoding": {
                "x": {"field": "t", "type": "quantitative", "title": null, "scale": {"domain": [-0.59, 17.71], "nice": false, "zero": false},
                  "axis": {"values": [0, 2.5, 5, 7.5, 10, 12.5, 15], "labels": false, "ticks": false, "grid": true, "gridWidth": {"condition": {"test": "datum.value % 5 === 0", "value": 2.3}, "value": 1.2}}},
                "y": {"field": "v", "type": "quantitative", "title": null, "scale": {"domain": [-20.2, 291.8], "nice": false, "zero": false},
                  "axis": {"values": [0, 25, 50, 75, 100, 125, 150, 175, 200, 225, 250], "labels": false, "ticks": false, "grid": true, "gridWidth": {"condition": {"test": "datum.value % 50 === 0", "value": 2.3}, "value": 1.2}}}
              },
              "layer": [
                {"data": {"name": "bMA"}, "mark": {"type": "area", "opacity": 0.11}, "encoding": {"y2": {"field": "v2"}, "color": {"field": "q", "type": "nominal", "scale": {"domain": ["5%", "50%", "95%"], "range": ["#FF0000", "#0000FF", "#FF0000"]}, "legend": null}}},
                {"data": {"name": "sMA"}, "mark": {"type": "line", "strokeWidth": 2.2}, "encoding": {"color": {"field": "q", "type": "nominal", "scale": {"domain": ["5%", "50%", "95%"], "range": ["#FF0000", "#0000FF", "#FF0000"]}, "legend": null}}},
                {"data": {"name": "oMA"}, "mark": {"type": "line", "strokeWidth": 5, "color": "#000000", "strokeJoin": "round"}, "encoding": {"strokeDash": {"field": "q", "type": "nominal", "scale": {"domain": ["5%", "50%", "95%"], "range": [[5.5, 16.5], [1, 0], [22, 22]]}, "legend": null}}},
                {"data": {"name": "pMA"}, "mark": {"type": "point", "filled": true, "fill": "#000000", "fillOpacity": 0.3, "stroke": "#000000", "strokeOpacity": 0.6, "strokeWidth": 3, "size": 72}}
              ]
            },
            {"data": {"values": [{"lab": "M"}]}, "mark": {"type": "rect", "fill": "#D9D9D9", "stroke": "#333333", "strokeWidth": 1.4},
              "encoding": {"x": {"datum": -0.59, "type": "quantitative", "scale": {"domain": [-0.59, 17.71], "nice": false, "zero": false}}, "x2": {"datum": 16.64}, "y": {"datum": 262.2, "type": "quantitative", "scale": {"domain": [-20.2, 291.8], "nice": false, "zero": false}}, "y2": {"datum": 291.8}}},
            {"data": {"values": [{"lab": "M"}]}, "mark": {"type": "text", "fontSize": 22, "color": "#1A1A1A", "baseline": "middle", "align": "center"},
              "encoding": {"x": {"datum": 8.025, "type": "quantitative"}, "y": {"datum": 277, "type": "quantitative"}, "text": {"field": "lab"}}},
            {"data": {"values": [{"lab": "Study A"}]}, "mark": {"type": "rect", "fill": "#D9D9D9", "stroke": "#333333", "strokeWidth": 1.4},
              "encoding": {"x": {"datum": 16.64, "type": "quantitative"}, "x2": {"datum": 17.71}, "y": {"datum": -20.2, "type": "quantitative"}, "y2": {"datum": 262.2}}},
            {"data": {"values": [{"lab": "Study A"}]}, "mark": {"type": "text", "fontSize": 22, "color": "#1A1A1A", "baseline": "middle", "align": "center", "angle": 90},
              "encoding": {"x": {"datum": 17.175, "type": "quantitative"}, "y": {"datum": 121, "type": "quantitative"}, "text": {"field": "lab"}}},
            {"data": {"values": [{"lab": "panel"}]}, "mark": {"type": "rect", "fillOpacity": 0, "stroke": "#333333", "strokeWidth": 1.4},
              "encoding": {"x": {"datum": -0.59, "type": "quantitative"}, "x2": {"datum": 16.64}, "y": {"datum": -20.2, "type": "quantitative"}, "y2": {"datum": 262.2}}}
          ]
        },
        {
          "width": 757, "height": 439,
          "layer": [
            {
              "encoding": {
                "x": {"field": "t", "type": "quantitative", "scale": {"domain": [-0.496, 15.51], "nice": false, "zero": false},
                  "axis": {"values": [0, 2.5, 5, 7.5, 10, 12.5, 15], "grid": true, "gridWidth": {"condition": {"test": "datum.value % 5 === 0", "value": 2.3}, "value": 1.2},
                    "labelExpr": "datum.value % 5 === 0 ? datum.label : ''", "tickOpacity": {"condition": {"test": "datum.value % 5 === 0", "value": 1}, "value": 0},
                    "title": "TIME", "titleX": 765.2, "titlePadding": 6}},
                "y": {"field": "v", "type": "quantitative", "title": null, "scale": {"domain": [-10.7, 234.3], "nice": false, "zero": false},
                  "axis": {"values": [0, 25, 50, 75, 100, 125, 150, 175, 200, 225], "grid": true, "gridWidth": {"condition": {"test": "datum.value % 50 === 0", "value": 2.3}, "value": 1.2},
                    "labelExpr": "datum.value % 50 === 0 ? datum.label : ''", "tickOpacity": {"condition": {"test": "datum.value % 50 === 0", "value": 1}, "value": 0}}}
              },
              "layer": [
                {"data": {"name": "bFB"}, "mark": {"type": "area", "opacity": 0.11}, "encoding": {"y2": {"field": "v2"}, "color": {"field": "q", "type": "nominal", "scale": {"domain": ["5%", "50%", "95%"], "range": ["#FF0000", "#0000FF", "#FF0000"]}, "legend": null}}},
                {"data": {"name": "sFB"}, "mark": {"type": "line", "strokeWidth": 2.2}, "encoding": {"color": {"field": "q", "type": "nominal", "scale": {"domain": ["5%", "50%", "95%"], "range": ["#FF0000", "#0000FF", "#FF0000"]}, "legend": null}}},
                {"data": {"name": "oFB"}, "mark": {"type": "line", "strokeWidth": 5, "color": "#000000", "strokeJoin": "round"}, "encoding": {"strokeDash": {"field": "q", "type": "nominal", "scale": {"domain": ["5%", "50%", "95%"], "range": [[5.5, 16.5], [1, 0], [22, 22]]}, "legend": null}}},
                {"data": {"name": "pFB"}, "mark": {"type": "point", "filled": true, "fill": "#000000", "fillOpacity": 0.3, "stroke": "#000000", "strokeOpacity": 0.6, "strokeWidth": 3, "size": 72}}
              ]
            },
            {"data": {"values": [{"lab": "panel"}]}, "mark": {"type": "rect", "fillOpacity": 0, "stroke": "#333333", "strokeWidth": 1.4},
              "encoding": {"x": {"datum": -0.496, "type": "quantitative", "scale": {"domain": [-0.496, 15.51], "nice": false, "zero": false}}, "x2": {"datum": 15.51}, "y": {"datum": -10.7, "type": "quantitative", "scale": {"domain": [-10.7, 234.3], "nice": false, "zero": false}}, "y2": {"datum": 234.3}}}
          ]
        },
        {
          "width": 804, "height": 439,
          "layer": [
            {
              "encoding": {
                "x": {"field": "t", "type": "quantitative", "title": null, "scale": {"domain": [-0.59, 17.71], "nice": false, "zero": false},
                  "axis": {"values": [0, 2.5, 5, 7.5, 10, 12.5, 15], "grid": true, "gridWidth": {"condition": {"test": "datum.value % 5 === 0", "value": 2.3}, "value": 1.2},
                    "labelExpr": "datum.value % 5 === 0 ? datum.label : ''", "tickOpacity": {"condition": {"test": "datum.value % 5 === 0", "value": 1}, "value": 0}}},
                "y": {"field": "v", "type": "quantitative", "title": null, "scale": {"domain": [-10.7, 234.3], "nice": false, "zero": false},
                  "axis": {"values": [0, 25, 50, 75, 100, 125, 150, 175, 200, 225], "labels": false, "ticks": false, "grid": true, "gridWidth": {"condition": {"test": "datum.value % 50 === 0", "value": 2.3}, "value": 1.2}}}
              },
              "layer": [
                {"data": {"name": "bMB"}, "mark": {"type": "area", "opacity": 0.11}, "encoding": {"y2": {"field": "v2"}, "color": {"field": "q", "type": "nominal", "scale": {"domain": ["5%", "50%", "95%"], "range": ["#FF0000", "#0000FF", "#FF0000"]}, "legend": null}}},
                {"data": {"name": "sMB"}, "mark": {"type": "line", "strokeWidth": 2.2}, "encoding": {"color": {"field": "q", "type": "nominal", "scale": {"domain": ["5%", "50%", "95%"], "range": ["#FF0000", "#0000FF", "#FF0000"]}, "legend": null}}},
                {"data": {"name": "oMB"}, "mark": {"type": "line", "strokeWidth": 5, "color": "#000000", "strokeJoin": "round"}, "encoding": {"strokeDash": {"field": "q", "type": "nominal", "scale": {"domain": ["5%", "50%", "95%"], "range": [[5.5, 16.5], [1, 0], [22, 22]]}, "legend": null}}},
                {"data": {"name": "pMB"}, "mark": {"type": "point", "filled": true, "fill": "#000000", "fillOpacity": 0.3, "stroke": "#000000", "strokeOpacity": 0.6, "strokeWidth": 3, "size": 72}}
              ]
            },
            {"data": {"values": [{"lab": "Study B"}]}, "mark": {"type": "rect", "fill": "#D9D9D9", "stroke": "#333333", "strokeWidth": 1.4},
              "encoding": {"x": {"datum": 16.64, "type": "quantitative", "scale": {"domain": [-0.59, 17.71], "nice": false, "zero": false}}, "x2": {"datum": 17.71}, "y": {"datum": -10.7, "type": "quantitative", "scale": {"domain": [-10.7, 234.3], "nice": false, "zero": false}}, "y2": {"datum": 234.3}}},
            {"data": {"values": [{"lab": "Study B"}]}, "mark": {"type": "text", "fontSize": 22, "color": "#1A1A1A", "baseline": "middle", "align": "center", "angle": 90},
              "encoding": {"x": {"datum": 17.175, "type": "quantitative"}, "y": {"datum": 111.8, "type": "quantitative"}, "text": {"field": "lab"}}},
            {"data": {"values": [{"lab": "panel"}]}, "mark": {"type": "rect", "fillOpacity": 0, "stroke": "#333333", "strokeWidth": 1.4},
              "encoding": {"x": {"datum": -0.59, "type": "quantitative"}, "x2": {"datum": 16.64}, "y": {"datum": -10.7, "type": "quantitative"}, "y2": {"datum": 234.3}}}
          ]
        }
      ]
    }
  ]
}
